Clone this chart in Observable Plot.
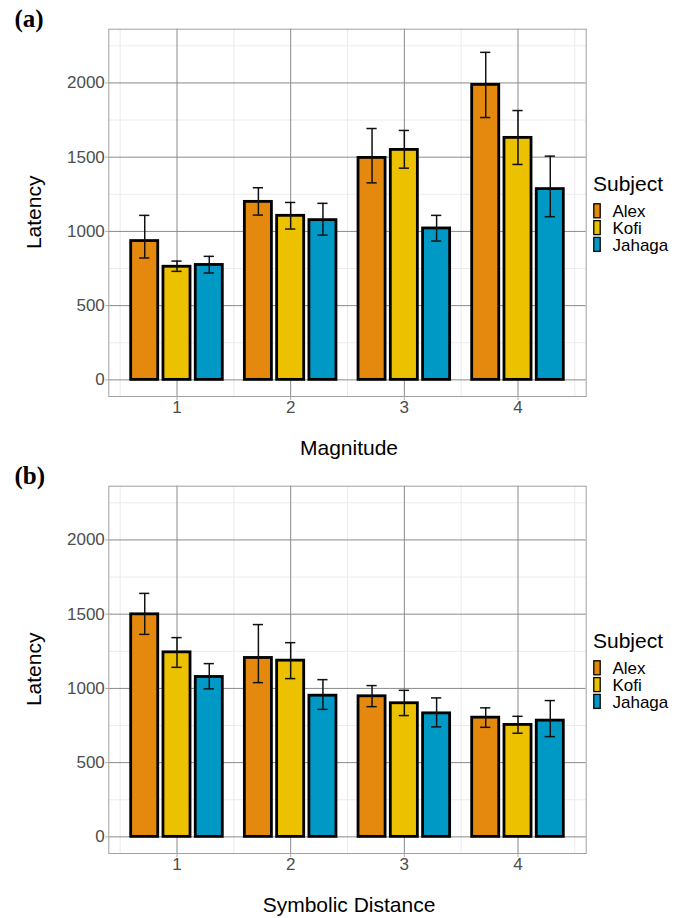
<!DOCTYPE html>
<html>
<head>
<meta charset="utf-8">
<script src="https://cdn.jsdelivr.net/npm/d3@7"></script>
<script src="https://cdn.jsdelivr.net/npm/@observablehq/plot@0.6"></script>
<style>
  html, body { margin: 0; padding: 0; background: #fff; }
  #root { position: relative; width: 683px; height: 918px; overflow: hidden; background: #fff;
          font-family: "Liberation Sans", Arial, sans-serif; }
  .sec { position: absolute; left: 0; width: 683px; height: 462px; }
  .sec > svg { position: absolute; left: 0; top: 0; }
  .overlay { pointer-events: none; }
  #root g[aria-label$="axis tick"] { stroke: #adadad; }
</style>
</head>
<body>
<div id="root"></div>
<script>
// ---------- data ----------
const magnitudes = [1, 2, 3, 4];
const subjects = ["Alex", "Kofi", "Jahaga"];
const subjectColors = ["#E4890E", "#ECC100", "#0099C6"];
const yMajorTicks = [0, 500, 1000, 1500, 2000];
const yMinorTicks = [250, 750, 1250, 1750, 2250];
const xMinorTicks = [0.5, 1.5, 2.5, 3.5, 4.5];

// Panel (a): Magnitude
const magAlexMean   = [935, 1199, 1495, 1987];
const magAlexLo     = [821, 1110, 1327, 1767];
const magAlexHi     = [1108, 1294, 1693, 2206];
const magKofiMean   = [762, 1105, 1549, 1630];
const magKofiLo     = [731, 1016, 1426, 1451];
const magKofiHi     = [800, 1195, 1680, 1814];
const magJahagaMean = [774, 1076, 1020, 1285];
const magJahagaLo   = [720, 975, 935, 1099];
const magJahagaHi   = [832, 1189, 1108, 1507];

// Panel (b): Symbolic Distance
const distAlexMean   = [1499, 1205, 947, 803];
const distAlexLo     = [1364, 1039, 877, 738];
const distAlexHi     = [1640, 1430, 1019, 869];
const distKofiMean   = [1243, 1187, 900, 754];
const distKofiLo     = [1142, 1066, 817, 698];
const distKofiHi     = [1342, 1308, 987, 812];
const distJahagaMean = [1077, 951, 832, 783];
const distJahagaLo   = [997, 859, 741, 675];
const distJahagaHi   = [1167, 1059, 936, 918];

// ---------- build tables ----------
function buildRows(means, los, his) {
  const out = [];
  magnitudes.forEach((m, i) => {
    subjects.forEach((s, j) => {
      out.push({cat: m, subject: s, k: j, mean: means[j][i], lo: los[j][i], hi: his[j][i]});
    });
  });
  return out;
}
const rowsA = buildRows(
  [magAlexMean, magKofiMean, magJahagaMean],
  [magAlexLo, magKofiLo, magJahagaLo],
  [magAlexHi, magKofiHi, magJahagaHi]);
const rowsB = buildRows(
  [distAlexMean, distKofiMean, distJahagaMean],
  [distAlexLo, distKofiLo, distJahagaLo],
  [distAlexHi, distKofiHi, distJahagaHi]);

// dodge layout (in category units)
const dodgeStep = 0.284, barHalf = 0.119, capHalf = 0.045;
const center = d => d.cat + (d.k - 1) * dodgeStep;

function chart(data) {
  return Plot.plot({
    width: 683, height: 420,
    marginLeft: 108.3, marginRight: 97.3, marginTop: 28.7, marginBottom: 24,
    style: {fontFamily: "'Liberation Sans', Arial, sans-serif", fontSize: "17px", color: "#4d4d4d", background: "transparent", overflow: "visible"},
    x: {domain: [0.4, 4.6], ticks: magnitudes, tickFormat: "d", tickSize: 4, tickPadding: 0.5, label: null},
    y: {domain: [-112, 2362], ticks: yMajorTicks, tickFormat: "d", tickSize: 3, tickPadding: 1, label: null},
    color: {domain: subjects, range: subjectColors},
    marks: [
      Plot.ruleY(yMinorTicks, {stroke: "#ebebeb", strokeWidth: 1}),
      Plot.ruleX(xMinorTicks, {stroke: "#ebebeb", strokeWidth: 1}),
      Plot.ruleY(yMajorTicks, {stroke: "#8a8a8a", strokeWidth: 1}),
      Plot.ruleX(magnitudes, {stroke: "#8a8a8a", strokeWidth: 1}),
      Plot.frame({stroke: "#a0a0a0", strokeWidth: 1}),
      Plot.rect(data, {
        x1: d => center(d) - barHalf, x2: d => center(d) + barHalf,
        y1: d => 0, y2: "mean",
        fill: "subject", stroke: "black", strokeWidth: 2.8
      }),
      Plot.ruleX(data, {x: center, y1: "lo", y2: "hi", stroke: "#111", strokeWidth: 1.5}),
      Plot.ruleY(data, {y: "hi", x1: d => center(d) - capHalf, x2: d => center(d) + capHalf, stroke: "#111", strokeWidth: 1.5}),
      Plot.ruleY(data, {y: "lo", x1: d => center(d) - capHalf, x2: d => center(d) + capHalf, stroke: "#111", strokeWidth: 1.5})
    ]
  });
}

function section(top, tag, xTitle, data) {
  const sec = d3.select("#root").append("div").attr("class", "sec").style("top", top + "px");
  sec.node().appendChild(chart(data));
  const ov = sec.append("svg").attr("class", "overlay").attr("width", 683).attr("height", 462)
    .style("overflow", "visible");
  ov.append("text").attr("x", 14.5).attr("y", 26.5)
    .attr("font-family", "'Liberation Serif', 'Times New Roman', serif")
    .attr("font-weight", "bold").attr("font-size", 25).attr("fill", "#000").text(tag);
  ov.append("text").attr("transform", "translate(40.5,212.3) rotate(-90)")
    .attr("text-anchor", "middle").attr("font-size", 21).attr("fill", "#000")
    .attr("font-family", "'Liberation Sans', Arial, sans-serif").text("Latency");
  ov.append("text").attr("x", 349).attr("y", 455)
    .attr("text-anchor", "middle").attr("font-size", 21).attr("fill", "#000")
    .attr("font-family", "'Liberation Sans', Arial, sans-serif").text(xTitle);
  // legend
  const lg = ov.append("g").attr("font-family", "'Liberation Sans', Arial, sans-serif");
  lg.append("text").attr("x", 593).attr("y", 190.5).attr("font-size", 21).attr("fill", "#000").text("Subject");
  subjects.forEach((s, i) => {
    lg.append("rect").attr("x", 593.8).attr("y", 203.8 + 16.8 * i).attr("width", 6.4).attr("height", 14)
      .attr("fill", subjectColors[i]).attr("stroke", "#000").attr("stroke-width", 1.3);
    lg.append("text").attr("x", 612.5).attr("y", 217.3 + 16.7 * i).attr("font-size", 17)
      .attr("fill", "#000").text(s);
  });
}

section(0, "(a)", "Magnitude", rowsA);
section(456.6, "(b)", "Symbolic Distance", rowsB);
</script>
</body>
</html>
